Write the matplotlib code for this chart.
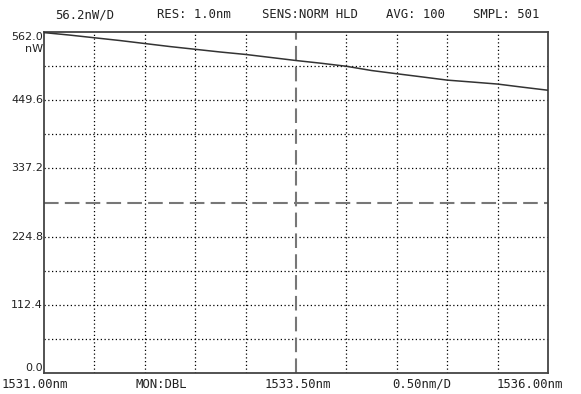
import matplotlib
matplotlib.use("Agg")
import matplotlib.pyplot as plt
from matplotlib import font_manager

wavelength = [1531.00, 1531.25, 1531.50, 1531.75, 1532.00, 1532.25, 1532.50, 1532.75,
              1533.00, 1533.25, 1533.50, 1533.75, 1534.00, 1534.25, 1534.50, 1534.75,
              1535.00, 1535.25, 1535.50, 1535.75, 1536.00]
power_nw = [561.0, 557.0, 552.5, 548.0, 543.0, 538.0, 533.5, 529.0,
            525.0, 520.0, 515.0, 510.5, 505.5, 498.5, 493.2, 488.0,
            482.7, 479.5, 476.2, 471.0, 466.0]

ytick_vals = [0.0, 112.4, 224.8, 337.2, 449.6, 562.0]
ytick_labels = ["0.0", "112.4", "224.8", "337.2", "449.6", "562.0"]
header = ["56.2nW/D", "RES: 1.0nm", "SENS:NORM HLD", "AVG: 100", "SMPL: 501"]
footer = ["1531.00nm", "MON:DBL", "1533.50nm", "0.50nm/D", "1536.00nm"]

avail = {f.name for f in font_manager.fontManager.ttflist}
narrow = "Liberation Sans Narrow" if "Liberation Sans Narrow" in avail else "DejaVu Sans"
mono = "DejaVu Sans Mono"

W, H = 581, 394
fig = plt.figure(figsize=(W / 100, H / 100), dpi=100)
L, R, T, B = 44, 548, 32, 373
ax = fig.add_axes([L / W, 1 - B / H, (R - L) / W, (B - T) / H])
ax.set_xlim(1531.0, 1536.0)
ax.set_ylim(0, 562.0)

# grid
xstep = 0.5
for i in range(1, 10):
    x = 1531.0 + i * xstep
    if i == 5:
        continue
    ax.axvline(x, color="black", lw=0.9, ls=(0, (1, 2)), zorder=1)
for i in range(1, 10):
    y = i * 56.2
    if i == 5:
        continue
    ax.axhline(y, color="black", lw=0.9, ls=(0, (1, 2)), zorder=1)
ax.axvline(1533.5, color="#777777", lw=1.5, ls=(0, (7, 3)), zorder=2)
ax.axhline(281.0, color="#777777", lw=1.5, ls=(0, (7, 3)), zorder=2)

ax.plot(wavelength, power_nw, color="#333333", lw=1.1, zorder=3)

for s in ax.spines.values():
    s.set_color("#444444")
    s.set_linewidth(1.3)
ax.set_xticks([])
ax.set_yticks([])

# y labels
for v, lab in zip(ytick_vals, ytick_labels):
    if v == 562.0:
        fig.text((L - 1) / W, 1 - 37 / H, lab, ha="right", va="center",
                 fontsize=8, family=narrow, color="#222222")
        continue
    va = "bottom" if v == 0.0 else "center"
    ax.text(-0.002, v, lab, transform=ax.get_yaxis_transform(), ha="right", va=va,
            fontsize=8, family=narrow, color="#222222")
fig.text((L - 1) / W, 1 - 49 / H, "nW", ha="right", va="center", fontsize=8,
         family=narrow, color="#222222")

# header
hx = [55, 157, 262, 386, 473]
for x, t in zip(hx, header):
    fig.text(x / W, 1 - 15 / H, t, ha="left", va="center", fontsize=8.8,
             family=mono, color="#222222")
fx = [2, 136, 265, 392, 497]
for x, t in zip(fx, footer):
    fig.text(x / W, 1 - 384 / H, t, ha="left", va="center", fontsize=8.8,
             family=mono, color="#222222")

fig.savefig("out.png", dpi=100)
